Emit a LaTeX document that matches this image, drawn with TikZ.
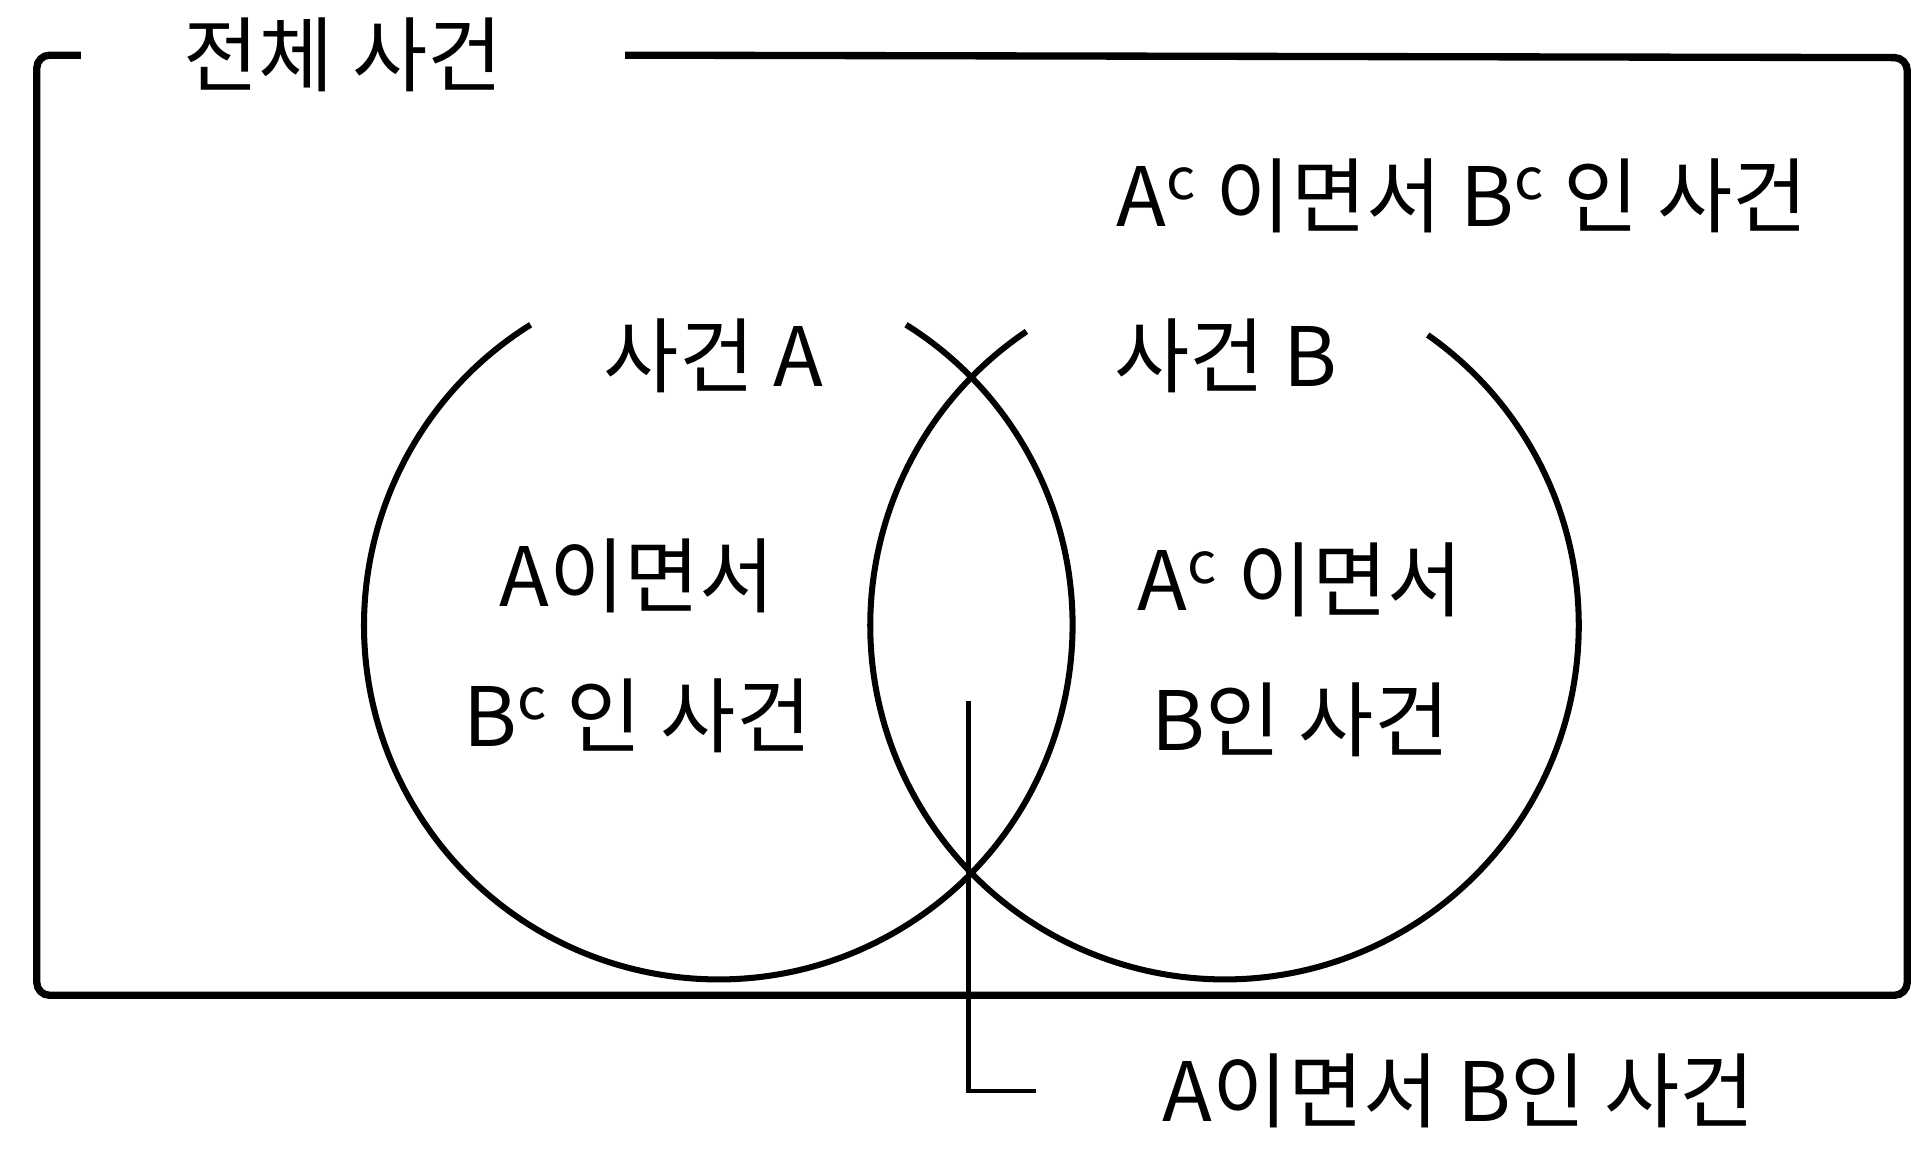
\documentclass[tikz,border=0pt]{standalone}
\usepackage{fontspec}
\setmainfont{Noto Sans CJK KR}
\usepackage{tikz}
\usetikzlibrary{positioning}

\tikzset{
  evt/.style={line width=1.4pt},
  lbl/.style={font=\fontsize{19}{32.6}\selectfont, inner sep=0pt, align=center},
}

\begin{document}
\begin{tikzpicture}[x=0.01cm, y=0.01cm]
        \useasboundingbox (0,0) rectangle (1568,959);
        % whole space, open at the top for its title
        \draw[line width=1.7pt, rounded corners=3pt] (66,914) -- (30,914) -- (30,147) -- (1556,147) -- (1556,912) -- (510,914);
        \node[lbl] (omega) at (280,914) {전체 사건};
        % the two events
        \coordinate (cA) at (586,449);
        \coordinate (cB) at (999,449);
        \draw[evt] (cA) ++(122:289) arc[start angle=122, end angle=418, radius=289];
        \draw[evt] (cB) ++(124:289) arc[start angle=124, end angle=415, radius=289];
        \node[lbl] (nameA) at (582,669) {사건 A};
        \node[lbl] (nameB) at (1000,669) {사건 B};
        \node[lbl] (none) at (1193,799) {A\textsuperscript{c} 이면서 B\textsuperscript{c} 인 사건};
        \node[lbl] (onlyA) at (520,432) {A이면서\\B\textsuperscript{c} 인 사건};
        \node[lbl] (onlyB) at (1061,429) {A\textsuperscript{c} 이면서\\B인 사건};
        % leader to the intersection
        \coordinate (mid) at (790,387);
        \coordinate (tip) at (845,69);
        \draw[line width=1.1pt] (mid) |- (tip);
        \node[lbl, right=1.03cm of tip] (both) {A이면서 B인 사건};
\end{tikzpicture}
\end{document}
